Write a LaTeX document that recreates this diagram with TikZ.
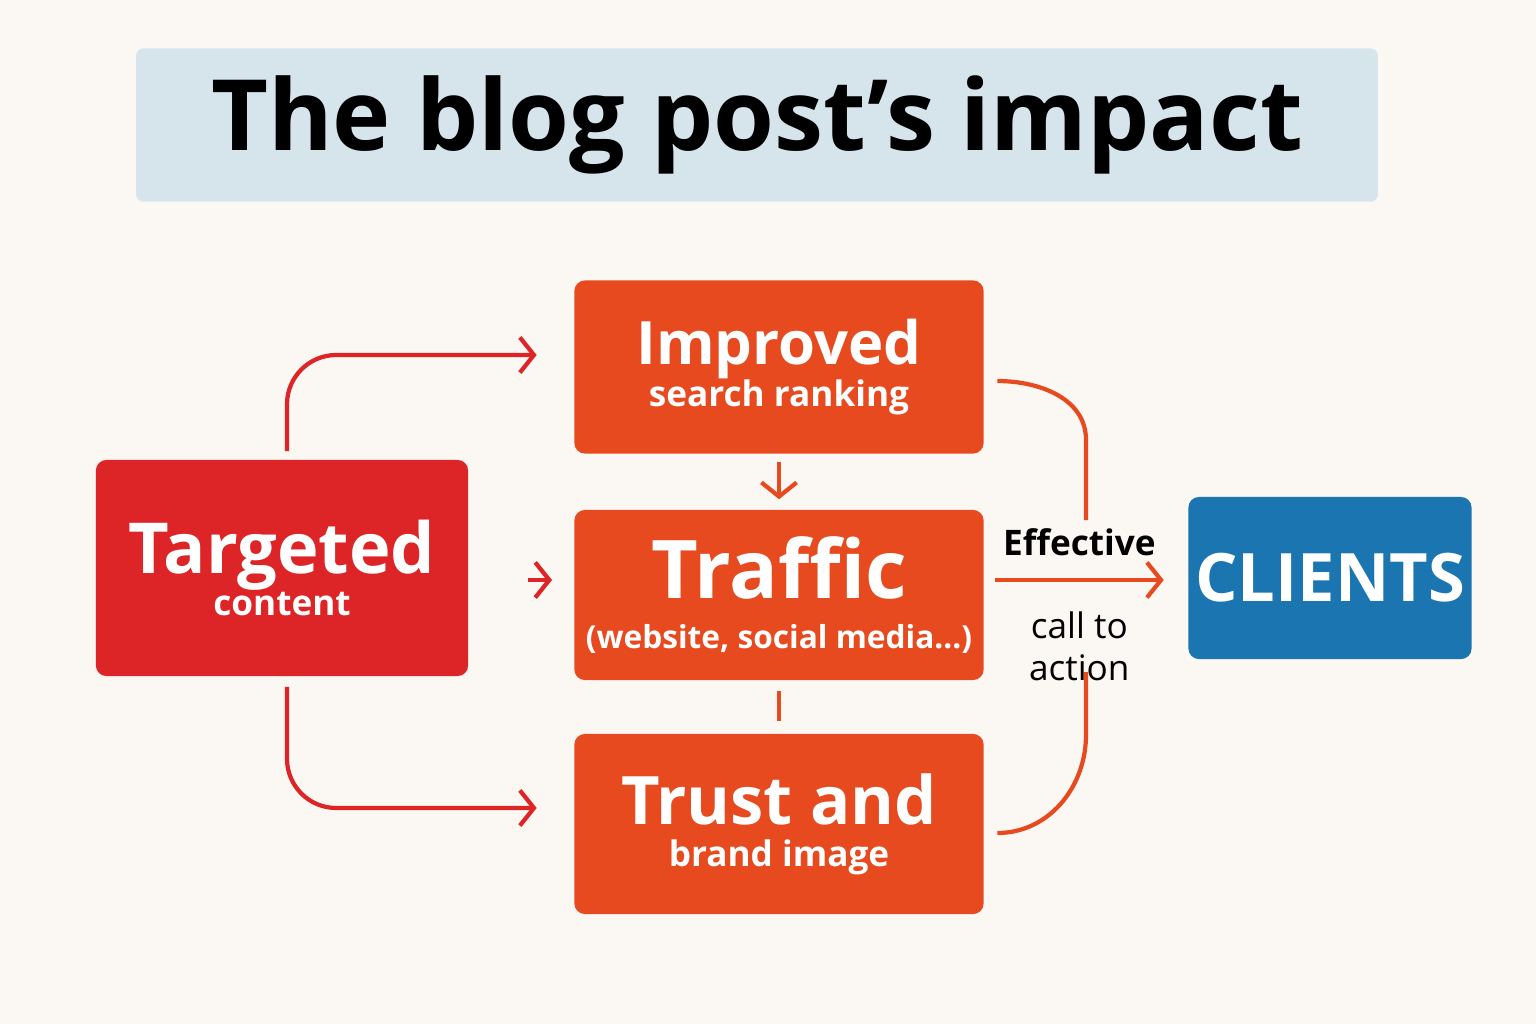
\documentclass[tikz,border=0pt]{standalone}
\usepackage{fontspec}
\setmainfont{Open Sans}
\usetikzlibrary{arrows.meta}
\definecolor{bgcol}{HTML}{FBF7F2}
\definecolor{titlecol}{HTML}{D6E4EC}
\definecolor{redbox}{HTML}{DD2427}
\definecolor{orbox}{HTML}{E84A1F}
\definecolor{bluebox}{HTML}{1A75B0}
\tikzset{
  box/.style={rounded corners=3pt,text=white,font=\bfseries,align=center,inner sep=0pt},
  redline/.style={draw=redbox,line width=1.2pt,rounded corners=14pt},
  orline/.style={draw=orbox,line width=1.2pt},
  chev/.style={-{Straight Barb[length=4pt,width=10pt,line width=1.2pt]}},
}
\begin{document}
\begin{tikzpicture}[x=0.01cm,y=-0.01cm]
	\useasboundingbox[fill=bgcol] (0,0) rectangle (1536,1024);
	
	% Draw nodes
	\node[fill=titlecol,rounded corners=2pt,minimum width=1241\pgflinewidth*0+12.41cm,minimum height=1.53cm] (title) at (757,125)
	  {\fontsize{28}{30}\selectfont\bfseries The blog post’s impact};
	\node[box,fill=redbox,minimum width=3.72cm,minimum height=2.16cm] (TC) at (282,568)
	  {\fontsize{20}{23}\selectfont Targeted\\content};
	\node[box,fill=orbox,minimum width=4.09cm,minimum height=1.73cm] (ISR) at (779,367)
	  {\fontsize{17}{19}\selectfont Improved\\search ranking};
	\node[box,fill=orbox,minimum width=4.09cm,minimum height=1.70cm] (TR) at (779,595)
	  {\fontsize{23}{24}\selectfont Traffic\\[2pt]\fontsize{9}{10}\selectfont (website, social media...)};
	\node[box,fill=orbox,minimum width=4.09cm,minimum height=1.80cm] (TB) at (779,824)
	  {\fontsize{19}{20}\selectfont Trust and\\brand image};
	\node[box,fill=bluebox,minimum width=2.83cm,minimum height=1.62cm] (CL) at (1330,578)
	  {\fontsize{19}{20}\selectfont CLIENTS};
	\coordinate (mid) at (528,580);
	
	% Draw arcs
	\draw[redline,chev] (TC.north) ++(5,-8) |- ([xshift=-0.37cm]ISR.west |- 0,355);
	\draw[redline,chev] (TC.south) ++(5,10) |- ([xshift=-0.37cm]TB.west |- 0,808);
	\draw[redline,chev] (mid) -- ++(24,0);
	\draw[orline,chev] ([yshift=-0.08cm]ISR.south) -- ([yshift=0.1cm]TR.north);
	\draw[orline] ([yshift=-0.1cm]TR.south) -- ([yshift=0.12cm]TB.north);
	\draw[orline] ([xshift=0.13cm,yshift=-0.14cm]ISR.east) to[out=0,in=90] (1086,440) -- (1086,520);
	\draw[orline] ([xshift=0.13cm,yshift=-0.09cm]TB.east) to[out=0,in=-90] (1086,735) -- (1086,672);
	\draw[orline,chev] (995,580) -- node[above=3pt,font=\fontsize{10}{12}\selectfont\bfseries] {Effective}
	  node[below=5pt,align=center,font=\fontsize{10}{12}\selectfont] {call to\\action} ([xshift=-0.24cm]CL.west |- 0,580);
	
\end{tikzpicture}
\end{document}
